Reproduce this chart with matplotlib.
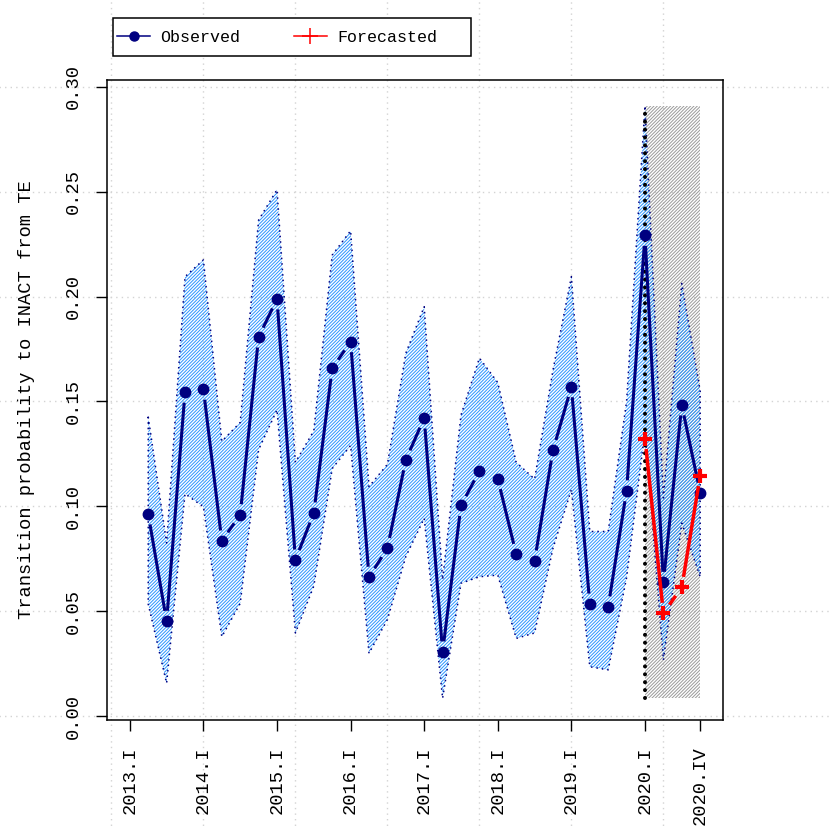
import numpy as np
import matplotlib
matplotlib.use('Agg')
import matplotlib.pyplot as plt
from matplotlib.collections import LineCollection
from matplotlib.patches import Rectangle
from matplotlib.lines import Line2D

plt.rcParams['font.family'] = ['Liberation Mono', 'DejaVu Sans Mono']
plt.rcParams['hatch.linewidth'] = 0.7

# quarters 2013.I .. 2020.IV
quarters = ['{}.{}'.format(y, r) for y in range(2013, 2021)
            for r in ['I', 'II', 'III', 'IV']]

# observed series starts at 2013.II
observed = [0.0963, 0.0452, 0.1544, 0.1558, 0.0835, 0.0960, 0.1807, 0.1989,
            0.0744, 0.0969, 0.1658, 0.1785, 0.0662, 0.0800, 0.1221, 0.1421,
            0.0306, 0.1004, 0.1168, 0.1131, 0.0772, 0.0740, 0.1268, 0.1570,
            0.0534, 0.0521, 0.1074, 0.2292, 0.0638, 0.1483, 0.1064]
upper = [0.1427, 0.0825, 0.2095, 0.2175, 0.1310, 0.1400, 0.2365, 0.2510,
         0.1210, 0.1360, 0.2198, 0.2314, 0.1094, 0.1200, 0.1730, 0.1952,
         0.0650, 0.1435, 0.1707, 0.1590, 0.1210, 0.1130, 0.1650, 0.2095,
         0.0880, 0.0880, 0.1500, 0.2910, 0.1040, 0.2063, 0.1550]
lower = [0.0534, 0.0156, 0.1060, 0.0998, 0.0378, 0.0537, 0.1270, 0.1460,
         0.0396, 0.0620, 0.1180, 0.1290, 0.0299, 0.0460, 0.0760, 0.0943,
         0.0084, 0.0633, 0.0664, 0.0672, 0.0370, 0.0396, 0.0800, 0.1080,
         0.0235, 0.0220, 0.0660, 0.1360, 0.0267, 0.0920, 0.0664]
# forecast from 2020.I
forecast = [0.1323, 0.0490, 0.0614, 0.1146]

tick_labels = ['2013.I', '2014.I', '2015.I', '2016.I', '2017.I', '2018.I',
               '2019.I', '2020.I', '2020.IV']
y_ticks = [0.00, 0.05, 0.10, 0.15, 0.20, 0.25, 0.30]

x_obs = np.array([quarters.index(q) for q in quarters[1:]])
x_fc = np.array([quarters.index(q) for q in quarters[28:]])
x_ticks = [quarters.index(q) for q in tick_labels]
grid_x = np.arange(-1, 30, 5)

W = 830
fig = plt.figure(figsize=(W / 100, W / 100), dpi=100)
ax = fig.add_axes([107 / W, 1 - 720 / W, 616 / W, 640 / W])
ax.set_xlim(-1.24, 32.24)
ax.set_ylim(-0.0019, 0.3033)


def type_b(x, y, gap, **kw):
    """lines with gaps around the points, like R type='b'"""
    pts = ax.transData.transform(np.column_stack([x, y]))
    inv = ax.transData.inverted()
    segs = []
    for p1, p2 in zip(pts[:-1], pts[1:]):
        d = p2 - p1
        L = np.hypot(*d)
        if L > 2 * gap:
            a = p1 + d / L * gap
            b = p2 - d / L * gap
            segs.append(inv.transform(np.array([a, b])))
    ax.add_collection(LineCollection(segs, **kw))


# grid across the whole figure
for yv in y_ticks:
    ax.axhline(yv, xmin=-0.2, xmax=1.2, color='#d3d3d3', lw=1.0,
               ls=(0, (1, 3)), clip_on=False, zorder=0)
for xv in grid_x:
    ax.axvline(xv, ymin=-0.2, ymax=1.2, color='#d3d3d3', lw=1.0,
               ls=(0, (1, 3)), clip_on=False, zorder=0)

# forecast region
lo_all, hi_all = min(lower), max(upper)
ax.add_patch(Rectangle((x_fc[0], lo_all), x_fc[-1] - x_fc[0], hi_all - lo_all,
                       facecolor='none', edgecolor='#9a9a9a',
                       hatch='//////////', lw=0, zorder=1))

# confidence band
ax.fill_between(x_obs, lower, upper, facecolor='none', edgecolor='#2a95ff',
                hatch='//////////', lw=0, zorder=2)
bx = np.concatenate([x_obs, x_obs[::-1], x_obs[:1]])
by = np.concatenate([upper, lower[::-1], upper[:1]])
ax.plot(bx, by, color='navy', lw=1.1, ls=(0, (1, 2.6)), zorder=3)

ax.plot([x_fc[0], x_fc[0]], [lo_all, hi_all], color='black', lw=2.9,
        ls=(0, (0.01, 1.95)), dash_capstyle='round', zorder=4)

type_b(x_obs, observed, 10.5, colors='navy', linewidths=2.2, zorder=5)
ax.plot(x_obs, observed, 'o', color='navy', ms=7.5, zorder=6)
type_b(x_fc, forecast, 10.5, colors='red', linewidths=2.5, zorder=7)
ax.plot(x_fc, forecast, '+', color='red', ms=10, mew=3, zorder=8)

ax.set_xticks(x_ticks)
ax.set_xticklabels(tick_labels, rotation=90, fontsize=13.5)
ax.set_yticks(y_ticks)
ax.set_yticklabels(['{:.2f}'.format(v) for v in y_ticks], rotation=90,
                   fontsize=13.5, va='center')
ax.tick_params(axis='both', length=8, width=1, color='black')
ax.tick_params(axis='x', pad=11)
ax.tick_params(axis='y', pad=10)
for s in ax.spines.values():
    s.set_linewidth(1.1)
ax.patch.set_alpha(0)

fig.text(27 / W, 1 - 400 / W, 'Transition probability to INACT from TE',
         rotation=90, ha='center', va='center', fontsize=13.5)

# legend
fig.patches.append(Rectangle((113 / W, 1 - 56 / W), 358 / W, 38 / W,
                             transform=fig.transFigure, facecolor='white',
                             edgecolor='black', lw=1.1, zorder=4))
handles = [Line2D([], [], color='navy', marker='o', ms=6.5, lw=1.1),
           Line2D([], [], color='red', marker='+', ms=11, mew=1.1, lw=1.1)]
fig.legend(handles, ['Observed', 'Forecasted'], loc='center left',
           bbox_to_anchor=(117 / W, 1 - 37 / W), ncol=2, frameon=False,
           borderpad=0, borderaxespad=0, handlelength=2.0, handletextpad=0.6,
           columnspacing=3.2, fontsize=12).set_zorder(6)

fig.savefig('out.png', dpi=100)
